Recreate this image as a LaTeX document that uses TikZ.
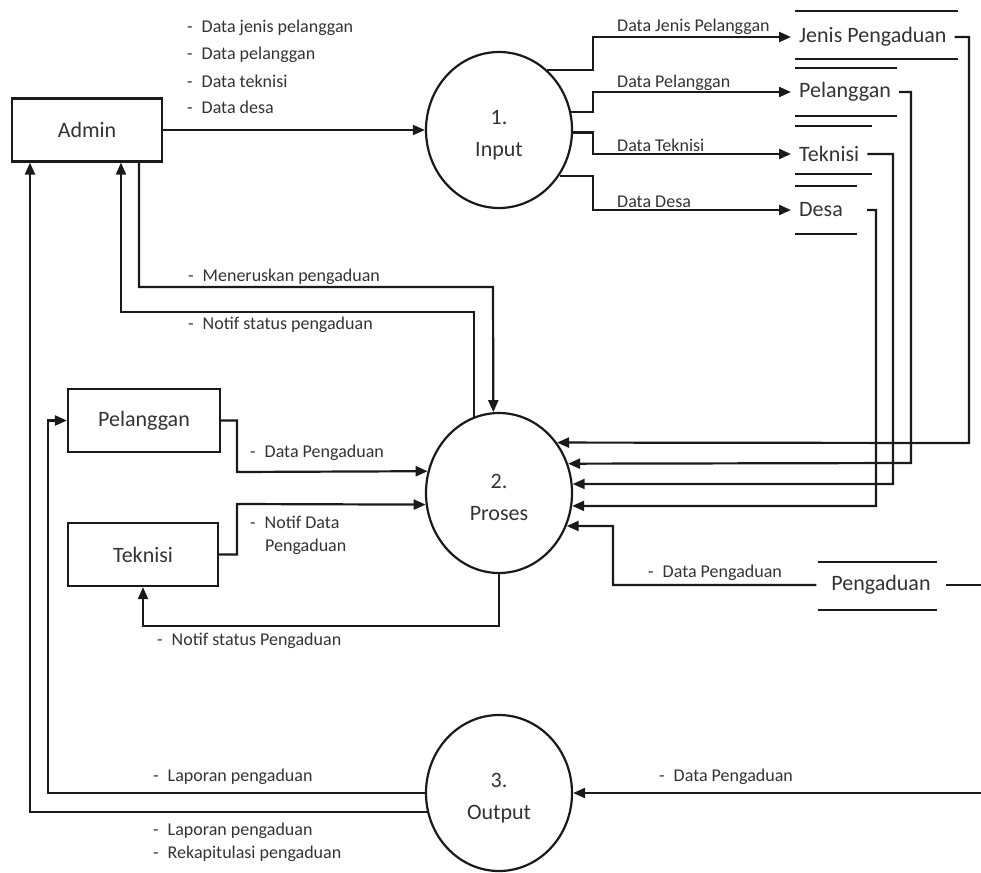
\documentclass[tikz,border=0pt]{standalone}
\usepackage{fontspec}
\setmainfont{Carlito}
\usetikzlibrary{arrows.meta,shapes.geometric}

\definecolor{ink}{HTML}{1A1A1A}
\definecolor{inktext}{HTML}{333333}

%% Dash in front of a flow label, as in a bulleted list.
\newcommand\dashitem{-\hspace{0.5em}}
%% Pushes the first line of a process label down a little.
\newcommand\topstrut{\rule{0pt}{24pt}}

\tikzset{
  entity/.style={draw=ink, line width=2.2pt, minimum width=150pt, minimum height=63pt,
    font=\fontsize{22}{26}\selectfont, text=inktext},
  process/.style={ellipse, draw=ink, line width=2.2pt, minimum width=146pt, minimum height=156pt,
    align=center, font=\fontsize{22}{32}\selectfont, text=inktext},
  storename/.style={anchor=west, inner xsep=8pt, inner ysep=3pt,
    font=\fontsize{22}{26}\selectfont, text=inktext},
  storeline/.style={draw=ink, line width=2.8pt},
  link/.style={draw=ink, line width=2.2pt},
  flow/.style={link, -{Triangle[length=12pt,width=10pt]}},
  lbl/.style={anchor=west, inner sep=0pt, font=\fontsize{18}{22}\selectfont, text=inktext},
}

\begin{document}
\begin{tikzpicture}[x=1pt,y=-1pt]
  %% Canvas of the original drawing.
  \useasboundingbox (0,0) rectangle (981,872);
  %% x position where the flows out of the input process split.
  \def\forkx{593}
  \coordinate (fork) at (\forkx,0);
  %% Loose ends at the right edge.
  \coordinate (edgeTop) at (981,585);
  \coordinate (edgeBottom) at (981,793);

  %% External entities.
  \node[entity] (admin) at (87,130) {Admin};
  \node[entity, minimum width=152pt] (pelanggan) at (144,420.5) {Pelanggan};
  \node[entity] (teknisi) at (143,554.5) {Teknisi};

  %% Processes.
  \node[process] (input) at (499,130) {\topstrut 1.\\Input};
  \node[process, minimum height=160pt] (proses) at (499,493) {\topstrut 2.\\Proses};
  \node[process] (output) at (499,793) {\topstrut 3.\\Output};

  %% Data stores.
  \node[storename] (jenisStore) at (791,37) {Jenis Pengaduan};
  \draw[storeline] (795,11) -- (958,11);
  \draw[storeline] (795,59) -- (958,59);
  \node[storename] (pelStore) at (791,92) {Pelanggan};
  \draw[storeline] (795,68) -- (897,68);
  \draw[storeline] (795,116) -- (897,116);
  \node[storename] (tekStore) at (791,154) {Teknisi};
  \draw[storeline] (795,126) -- (872,126);
  \draw[storeline] (795,174) -- (872,174);
  \node[storename] (desaStore) at (791,210) {Desa};
  \draw[storeline] (795,186) -- (857,186);
  \draw[storeline] (795,234) -- (857,234);
  \node[storename, anchor=center, inner xsep=15pt] (pengaduanStore) at (881,585) {Pengaduan};
  \draw[storeline] (818,562) -- (937,562);
  \draw[storeline] (818,610) -- (937,610);

  %% Admin into the input process, and on into the stores.
  \draw[flow] (admin.east) -- (input.west);
  \draw[flow] (input.51) -| (fork |- jenisStore.west) -- (jenisStore.west);
  \draw[flow] (input.14.2) -| (fork |- pelStore.west) -- (pelStore.west);
  \draw[flow] (input.-2.4) -| (fork |- tekStore.west) -- (tekStore.west);
  \draw[flow] (input.-37.1) -| (fork |- desaStore.west) -- (desaStore.west);

  %% Stores into the main process.
  \draw[flow] (jenisStore.east) -| (969,443) -- (proses.41.3);
  \draw[flow] (pelStore.east) -| (911,463) -- (proses.23.9);
  \draw[flow] (tekStore.east) -| (893,484) -- (proses.7.1);
  \draw[flow] ([xshift=16pt]desaStore.east) -| (876,506) -- (proses.-10.2);
  \draw[flow] (pengaduanStore.west) -| (613,526) -- (proses.-26.4);
  \draw[link] (pengaduanStore.east) -- (pengaduanStore.east -| edgeTop);

  %% Admin and the main process.
  \draw[flow] ([xshift=52pt]admin.south) |- (493,287) -- (proses.94.3);
  \draw[flow] (proses.108.4) |- (121,312) -- ([xshift=34pt]admin.south);

  %% Customer and technician with the main process.
  \draw[flow] (pelanggan.east) -| (237,472) -- (proses.163.4);
  \draw[flow] (teknisi.east) -| (237,504) -- (proses.-171.3);
  \draw[flow] (proses.south) |- (143,626) -- (teknisi.south);

  %% Reports out of the output process.
  \draw[flow] (edgeBottom) -- (output.east);
  \draw[flow] (output.west) -| ([xshift=-19pt]pelanggan.west) -- (pelanggan.west);
  \draw[flow] (output.195.8) -| ([xshift=-57pt]admin.south);

  %% Flow labels.
  \foreach \txt [count=\i] in {Data jenis pelanggan, Data pelanggan, Data teknisi, Data desa}
    \node[lbl] (lblAdmin\i) at (187,{28+26.5*(\i-1)}) {\dashitem\txt};
  \node[lbl] (lblJenis) at (617,27) {Data Jenis Pelanggan};
  \node[lbl] (lblPel) at (617,83) {Data Pelanggan};
  \node[lbl] (lblTek) at (617,145) {Data Teknisi};
  \node[lbl] (lblDesa) at (617,202) {Data Desa};
  \node[lbl] (lblTeruskan) at (188,277) {\dashitem Meneruskan pengaduan};
  \node[lbl] (lblNotifAdmin) at (188,325) {\dashitem Notif status pengaduan};
  \node[lbl] (lblPengaduan) at (250,453) {\dashitem Data Pengaduan};
  \node[lbl] (lblNotifData) at (250,522) {\dashitem Notif Data};
  \node[lbl] (lblNotifData2) at (265,547) {Pengaduan};
  \node[lbl] (lblNotifTek) at (157,641) {\dashitem Notif status Pengaduan};
  \node[lbl] (lblStore) at (648,573) {\dashitem Data Pengaduan};
  \node[lbl] (lblLaporan) at (153,777) {\dashitem Laporan pengaduan};
  \node[lbl] (lblLaporan2) at (153,831) {\dashitem Laporan pengaduan};
  \node[lbl] (lblRekap) at (153,854) {\dashitem Rekapitulasi pengaduan};
  \node[lbl] (lblOutput) at (659,777) {\dashitem Data Pengaduan};
\end{tikzpicture}
\end{document}
